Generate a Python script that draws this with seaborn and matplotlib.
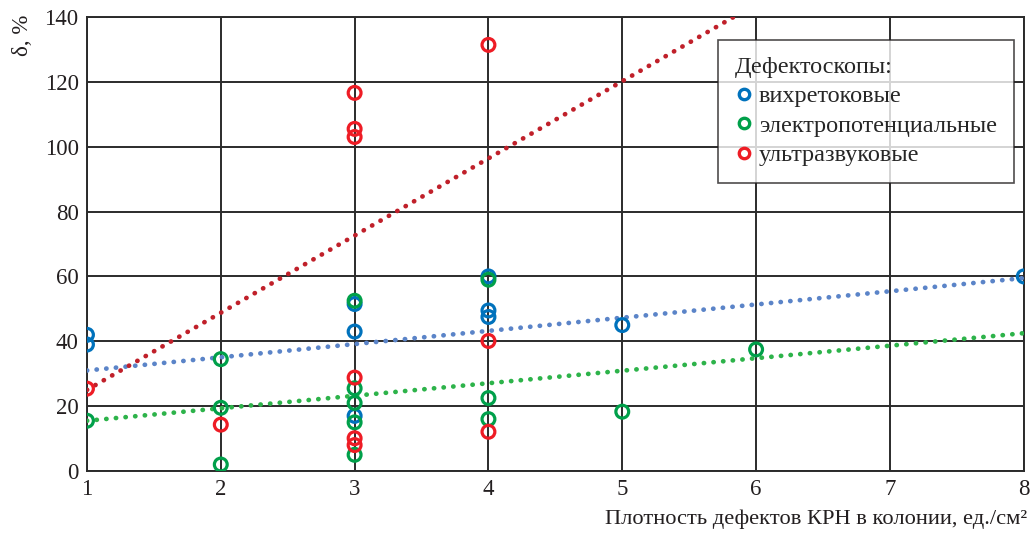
import numpy as np
import pandas as pd
import matplotlib.pyplot as plt
import seaborn as sns
from matplotlib.lines import Line2D

sns.set_theme(style="white")
plt.rcParams["font.family"] = ["Liberation Serif", "DejaVu Serif"]

# ---------- данные ----------
names = ["вихретоковые", "электропотенциальные", "ультразвуковые"]

eddy_x = [1, 1, 3, 3, 3, 4, 4, 4, 5, 8]
eddy_y = [42, 39, 51.5, 43, 17, 60, 49.5, 47.5, 45, 60]

pot_x = [1, 2, 2, 2, 3, 3, 3, 3, 3, 4, 4, 4, 5, 6]
pot_y = [15.5, 34.5, 19.5, 2, 52.5, 25.5, 21, 15, 5, 59, 22.5, 16, 18.3, 37.5]

us_x = [1, 2, 3, 3, 3, 3, 3, 3, 4, 4, 4]
us_y = [25.4, 14.3, 116.6, 105.5, 103, 28.8, 10.1, 8, 131.4, 40.1, 12.1]

# линии тренда: значения при x = 1 и x = 8
trend_x = [1, 8]
trend_eddy = [31, 59.5]
trend_pot = [15.5, 42.5]
trend_us = [25, 191.6]

point_colors = ["#0072BC", "#00A04A", "#EE1C25"]
trend_colors = ["#5B84C8", "#2DB34A", "#C0202A"]

df = pd.concat([
    pd.DataFrame({"x": eddy_x, "y": eddy_y, "type": names[0]}),
    pd.DataFrame({"x": pot_x, "y": pot_y, "type": names[1]}),
    pd.DataFrame({"x": us_x, "y": us_y, "type": names[2]}),
])

trends = [trend_eddy, trend_pot, trend_us]

# ---------- график ----------
fig = plt.figure(figsize=(10.34, 5.35), dpi=100)
ax = fig.add_axes([0.0841, 0.1196, 0.906, 0.8486])

for vals, col in zip(trends, trend_colors):
    sns.lineplot(x=trend_x, y=vals, ax=ax, color=col, linewidth=3.4,
                 linestyle=(0, (0.05, 2.0)), zorder=3)
    ax.lines[-1].set_dash_capstyle("round")

for name, col in zip(names, point_colors):
    sub = df[df["type"] == name]
    sns.scatterplot(data=sub, x="x", y="y", ax=ax, marker="o", s=85,
                    facecolor="none", edgecolor=col, linewidth=2.3,
                    zorder=4, legend=False)

ax.set_xlim(1, 8)
ax.set_ylim(0, 140)
ax.set_xticks(range(1, 9))
ax.set_yticks(range(0, 141, 20))
ax.grid(True, color="#2b2b2b", linewidth=1.4)
ax.set_axisbelow(True)
for s in ax.spines.values():
    s.set_color("#2b2b2b")
    s.set_linewidth(1.4)
ax.tick_params(axis="both", labelsize=16.5, length=0, pad=6, colors="#231f20")

ax.set_xlabel("")
ax.set_ylabel("")
fig.text(0.993, 0.012, "Плотность дефектов КРН в колонии, ед./см²",
         ha="right", va="bottom", fontsize=16.2, color="#231f20")
fig.text(0.012, 0.972, "δ, %", rotation=90, ha="left", va="top",
         fontsize=16.5, color="#231f20")

handles = [Line2D([], [], marker="o", linestyle="none", markersize=7.5,
                  markerfacecolor="none", markeredgecolor=c, markeredgewidth=2.4)
           for c in point_colors]
leg = ax.legend(handles, names, title="Дефектоскопы:", loc="upper right",
                bbox_to_anchor=(0.9895, 0.949), fontsize=17.5, title_fontsize=17.5,
                frameon=True, fancybox=False, edgecolor="#231f20",
                handletextpad=0.2, handlelength=0.8, borderpad=0.7,
                labelspacing=0.3, borderaxespad=0)
leg._legend_box.align = "left"
leg.get_frame().set_linewidth(1.2)
leg.set_zorder(10)

fig.savefig("out.png", dpi=100)
